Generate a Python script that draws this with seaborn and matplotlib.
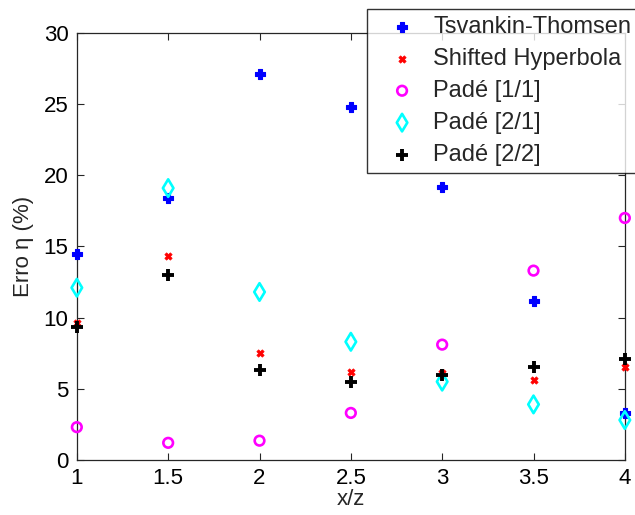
import numpy as np
import pandas as pd
import seaborn as sns
import matplotlib.pyplot as plt

# data
xz = [1, 1.5, 2, 2.5, 3, 3.5, 4]
tsvankin = [14.5, 18.4, 27.1, 24.8, 19.2, 11.2, 3.3]
shifted = [9.6, 14.3, 7.5, 6.2, 6.1, 5.6, 6.5]
pade11 = [2.3, 1.2, 1.35, 3.3, 8.1, 13.3, 17.0]
pade21 = [12.1, 19.1, 11.8, 8.3, 5.5, 3.9, 2.8]
pade22 = [9.35, 13.0, 6.3, 5.5, 6.0, 6.5, 7.1]

labels = ['Tsvankin-Thomsen', 'Shifted Hyperbola', 'Padé [1/1]', 'Padé [2/1]', 'Padé [2/2]']
series = [tsvankin, shifted, pade11, pade21, pade22]

sns.set_style('white')
plt.rcParams['font.family'] = ['Liberation Sans', 'DejaVu Sans']

fig = plt.figure(figsize=(6.35, 5.15), dpi=100)
ax = fig.add_axes([0.121, 0.107, 0.863, 0.829])

styles = [
    dict(marker='P', color='#0000ff', s=50, linewidth=0.8, edgecolor='#0000ff'),
    dict(marker='X', color='#ff0000', s=28, linewidth=0.5, edgecolor='#ff0000'),
    dict(marker='o', facecolor='none', edgecolor='#ff00ff', s=48, linewidth=1.9),
    dict(marker='d', facecolor='none', edgecolor='#00ffff', s=80, linewidth=1.9),
    dict(marker='+', color='black', s=75, linewidth=2.8),
]

for lab, vals, st in zip(labels, series, styles):
    df = pd.DataFrame({'x/z': xz, 'erro': vals})
    sns.scatterplot(data=df, x='x/z', y='erro', ax=ax, label=lab, clip_on=False, zorder=3, **st)

ax.set_xlim(1, 4)
ax.set_ylim(0, 30)
ax.set_xticks([1, 1.5, 2, 2.5, 3, 3.5, 4])
ax.set_xticklabels(['1', '1.5', '2', '2.5', '3', '3.5', '4'])
ax.set_yticks([0, 5, 10, 15, 20, 25, 30])
ax.tick_params(direction='in', length=5, width=0.8, labelsize=16, colors='#262626',
               top=True, right=True, bottom=True, left=True, pad=6)
ax.tick_params(labelcolor='black')
for sp in ax.spines.values():
    sp.set_color('#262626')
    sp.set_linewidth(0.9)

ax.set_xlabel('x/z', fontsize=16, labelpad=0)
ax.set_ylabel('Erro η (%)', fontsize=16, labelpad=7)

leg = ax.legend(loc='upper left', bbox_to_anchor=(367 / 635, 1 - 9 / 515),
                bbox_transform=fig.transFigure, fontsize=17, frameon=True,
                fancybox=False, borderpad=0.3, labelspacing=0.42,
                handletextpad=0.13, borderaxespad=0, handlelength=2.37)
leg.get_frame().set_edgecolor('black')
leg.get_frame().set_linewidth(1.0)
leg.set_zorder(5)

fig.savefig('out.png', dpi=100)
